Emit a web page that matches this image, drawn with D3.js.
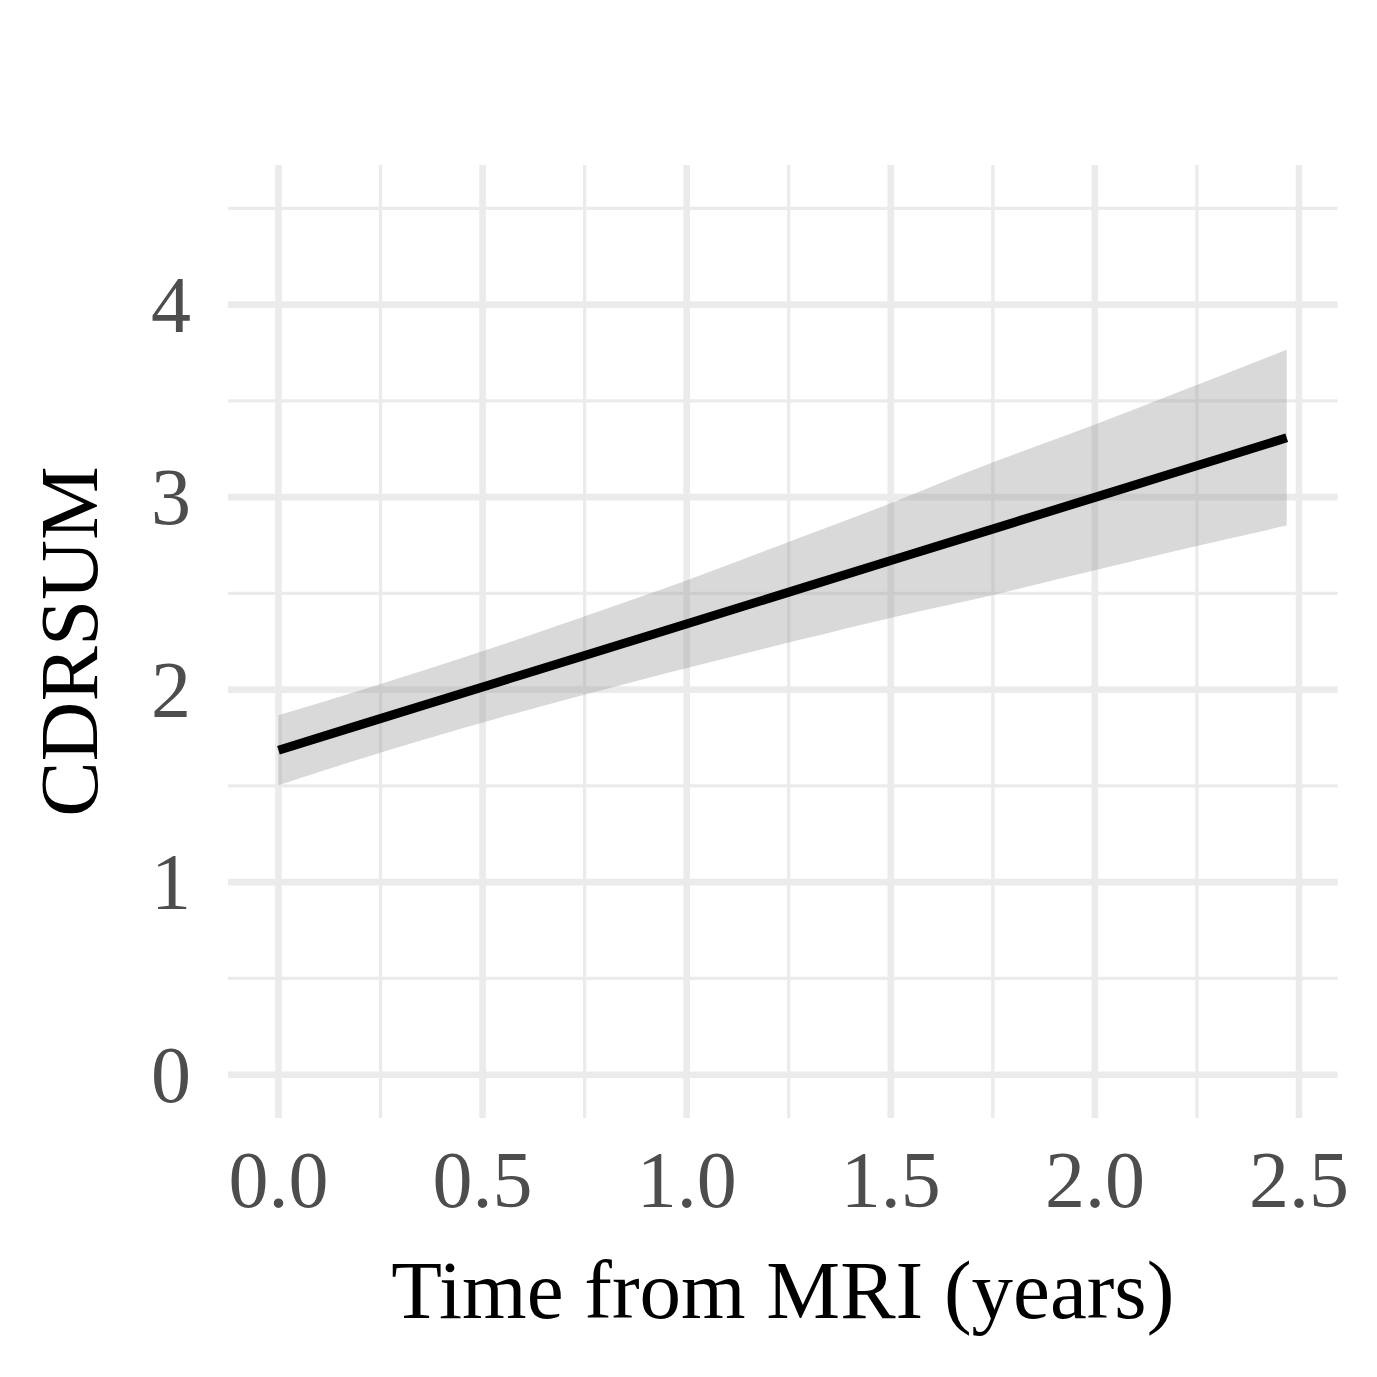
<!DOCTYPE html>
<html>
<head>
<meta charset="utf-8">
<script src="https://cdn.jsdelivr.net/npm/d3@7"></script>
<style>
html,body{margin:0;padding:0;background:#fff;}
svg{display:block;}
</style>
</head>
<body>
<svg id="chart" width="1377" height="1377"></svg>
<script>
// Data
const time  = [0, 0.20, 0.54, 0.74, 0.94, 1.28, 1.52, 1.67, 2.01, 2.21, 2.47];
const fit   = [1.685, 1.817, 2.040, 2.171, 2.302, 2.526, 2.684, 2.782, 3.005, 3.137, 3.308];
const upper = [1.867, 1.996, 2.228, 2.374, 2.522, 2.792, 2.985, 3.115, 3.385, 3.550, 3.766];
const lower = [1.503, 1.640, 1.853, 1.968, 2.080, 2.260, 2.383, 2.452, 2.625, 2.727, 2.852];
const xTicks = [0, 0.5, 1.0, 1.5, 2.0, 2.5];
const xMinor = [0.25, 0.75, 1.25, 1.75, 2.25];
const yTicks = [0, 1, 2, 3, 4];
const yMinor = [0.5, 1.5, 2.5, 3.5, 4.5];
const xTitle = "Time from MRI (years)";
const yTitle = "CDRSUM";

const svg = d3.select("#chart");
const panel = {left: 228, right: 1337.6, top: 165, bottom: 1118};

// expanded domains (ggplot-style 5% expansion)
const x = d3.scaleLinear().domain([-0.1236, 2.5946]).range([panel.left, panel.right]);
const y = d3.scaleLinear().domain([-0.225, 4.725]).range([panel.bottom, panel.top]);

const font = "'Liberation Serif', 'Times New Roman', serif";
const grid = svg.append("g");

// minor grid
grid.selectAll(".ym").data(yMinor).enter().append("line")
  .attr("x1", panel.left).attr("x2", panel.right)
  .attr("y1", d => y(d)).attr("y2", d => y(d))
  .attr("stroke", "#ebebeb").attr("stroke-width", 3.3);
grid.selectAll(".xm").data(xMinor).enter().append("line")
  .attr("y1", panel.top).attr("y2", panel.bottom)
  .attr("x1", d => x(d)).attr("x2", d => x(d))
  .attr("stroke", "#ebebeb").attr("stroke-width", 3.3);
// major grid
grid.selectAll(".yM").data(yTicks).enter().append("line")
  .attr("x1", panel.left).attr("x2", panel.right)
  .attr("y1", d => y(d)).attr("y2", d => y(d))
  .attr("stroke", "#ebebeb").attr("stroke-width", 6.6);
grid.selectAll(".xM").data(xTicks).enter().append("line")
  .attr("y1", panel.top).attr("y2", panel.bottom)
  .attr("x1", d => x(d)).attr("x2", d => x(d))
  .attr("stroke", "#ebebeb").attr("stroke-width", 6.6);

const rows = time.map((t, i) => ({t, fit: fit[i], lo: lower[i], hi: upper[i]}));

// ribbon
svg.append("path")
  .datum(rows)
  .attr("d", d3.area().x(d => x(d.t)).y0(d => y(d.lo)).y1(d => y(d.hi)).curve(d3.curveMonotoneX))
  .attr("fill", "#999999").attr("fill-opacity", 0.37);

// fitted line
svg.append("path")
  .datum(rows)
  .attr("d", d3.line().x(d => x(d.t)).y(d => y(d.fit)))
  .attr("fill", "none").attr("stroke", "#000").attr("stroke-width", 9);

// tick labels
svg.selectAll(".xt").data(xTicks).enter().append("text")
  .attr("x", d => x(d)).attr("y", 1207)
  .attr("text-anchor", "middle")
  .attr("font-family", font).attr("font-size", 80).attr("fill", "#4d4d4d")
  .text(d => d3.format(".1f")(d));
svg.selectAll(".yt").data(yTicks).enter().append("text")
  .attr("x", 191).attr("y", d => y(d) + 27)
  .attr("text-anchor", "end")
  .attr("font-family", font).attr("font-size", 80).attr("fill", "#4d4d4d")
  .text(d => d);

// axis titles
svg.append("text")
  .attr("x", (panel.left + panel.right) / 2).attr("y", 1318)
  .attr("text-anchor", "middle")
  .attr("font-family", font).attr("font-size", 83).attr("fill", "#000")
  .text(xTitle);
svg.append("text")
  .attr("transform", `translate(97,${(panel.top + panel.bottom) / 2}) rotate(-90)`)
  .attr("text-anchor", "middle")
  .attr("font-family", font).attr("font-size", 83).attr("fill", "#000")
  .text(yTitle);
</script>
</body>
</html>
